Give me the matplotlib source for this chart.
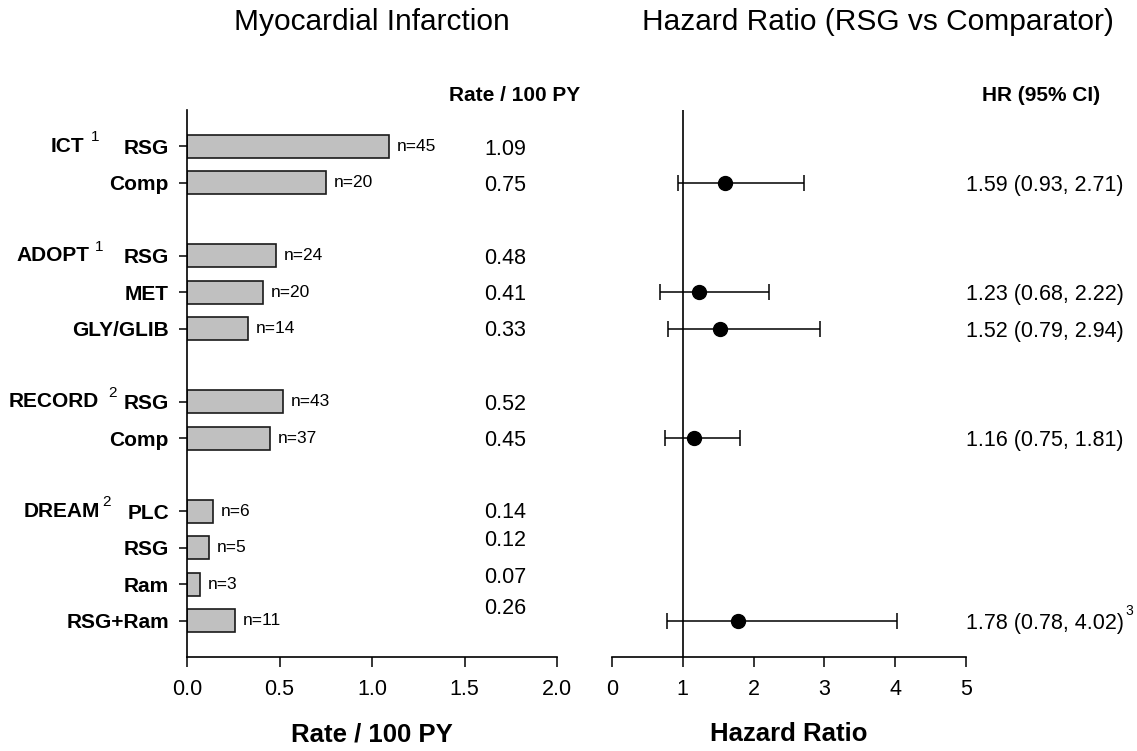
import numpy as np
import matplotlib.pyplot as plt

plt.rcParams['font.family'] = ['Liberation Sans', 'DejaVu Sans']

# data
rows = [0, 1, 3, 4, 5, 7, 8, 10, 11, 12, 13]
arms = ['RSG', 'Comp', 'RSG', 'MET', 'GLY/GLIB', 'RSG', 'Comp', 'PLC', 'RSG', 'Ram', 'RSG+Ram']
rates = [1.09, 0.75, 0.48, 0.41, 0.33, 0.52, 0.45, 0.14, 0.12, 0.07, 0.26]
events = [45, 20, 24, 20, 14, 43, 37, 6, 5, 3, 11]

studies = ['ICT', 'ADOPT', 'RECORD', 'DREAM']
study_refs = ['1', '1', '2', '2']
study_rows = [0, 3, 7, 10]

hr_rows = [1, 4, 5, 8, 13]
hr = [1.59, 1.23, 1.52, 1.16, 1.78]
hr_lo = [0.93, 0.68, 0.79, 0.75, 0.78]
hr_hi = [2.71, 2.22, 2.94, 1.81, 4.02]
hr_notes = ['', '', '', '', '3']

# small vertical nudges of the rate column, as in the original slide
rate_shift = [0.07, 0.07, 0.07, 0.07, 0.05, 0.07, 0.07, 0.05, -0.19, -0.19, -0.33]
# where the study names end / superscripts start (pixels left of the axis)
name_off = [103, 98, 88, 87]
sup_off = [96, 92, 79, 85]

fig = plt.figure(figsize=(11.37, 7.51), dpi=100)
ax1 = fig.add_axes([187 / 1137, 1 - 657 / 751, 370 / 1137, 547 / 751])
ax2 = fig.add_axes([612 / 1137, 1 - 657 / 751, 354 / 1137, 547 / 751])

# ---- left panel: rates
ax1.barh(rows, rates, height=0.63, color='#c0c0c0', edgecolor='#1a1a1a', linewidth=1.2)
ax1.set_xlim(0, 2)
ax1.set_ylim(14, -1)
ax1.set_xticks([0, 0.5, 1.0, 1.5, 2.0])
ax1.set_xticklabels(['0.0', '0.5', '1.0', '1.5', '2.0'])
ax1.set_yticks(rows)
ax1.set_yticklabels(arms, fontweight='bold', fontsize=15)
ax1.tick_params(axis='y', length=6, width=1.1, pad=7)
ax1.tick_params(axis='x', length=7, width=1.1, pad=9, labelsize=15.5)
for s in ['top', 'right']:
    ax1.spines[s].set_visible(False)
for s in ['left', 'bottom']:
    ax1.spines[s].set_linewidth(1.2)

for r, v, n, dy in zip(rows, rates, events, rate_shift):
    ax1.annotate(f'n={n}', xy=(v, r), xytext=(8, 0), textcoords='offset pixels',
                 ha='left', va='center', fontsize=12.5)
    ax1.text(1.72, r + dy, f'{v:.2f}', ha='center', va='center', fontsize=15.5)

ax1.text(1.77, -1.4, 'Rate / 100 PY', ha='center', va='center', fontsize=15,
         fontweight='bold', clip_on=False)

for name, ref, r, no, so in zip(studies, study_refs, study_rows, name_off, sup_off):
    ax1.annotate(name, xy=(0, r), xycoords=('axes fraction', 'data'), xytext=(-no, 0),
                 textcoords='offset pixels', ha='right', va='center',
                 fontweight='bold', fontsize=15)
    ax1.annotate(ref, xy=(0, r), xycoords=('axes fraction', 'data'), xytext=(-so, 2),
                 textcoords='offset pixels', ha='left', va='bottom', fontsize=11)

ax1.set_xlabel('Rate / 100 PY', fontsize=18.5, fontweight='bold', labelpad=16)

# ---- right panel: hazard ratios
ax2.axvline(1, color='black', linewidth=1.2)
ax2.errorbar(hr, hr_rows, xerr=[np.subtract(hr, hr_lo), np.subtract(hr_hi, hr)],
             fmt='o', color='black', markersize=10, capsize=5.5, elinewidth=1.1,
             capthick=1.1)
ax2.set_xlim(0, 5)
ax2.set_ylim(14, -1)
ax2.set_yticks([])
ax2.set_xticks(range(6))
ax2.tick_params(axis='x', length=7, width=1.1, pad=9, labelsize=15.5)
for s in ['top', 'right', 'left']:
    ax2.spines[s].set_visible(False)
ax2.spines['bottom'].set_linewidth(1.2)

for r, h, lo, hi, note in zip(hr_rows, hr, hr_lo, hr_hi, hr_notes):
    t = ax2.text(5.0, r + 0.07, f'{h:.2f} ({lo:.2f}, {hi:.2f})', ha='left', va='center',
                 fontsize=15.5, clip_on=False)
    if note:
        ax2.annotate(note, xy=(1, 0.75), xycoords=t, xytext=(1, 0),
                     textcoords='offset pixels', ha='left', va='bottom', fontsize=10,
                     annotation_clip=False)

ax2.text(6.06, -1.4, 'HR (95% CI)', ha='center', va='center', fontsize=15,
         fontweight='bold', clip_on=False)
ax2.set_xlabel('Hazard Ratio', fontsize=18.5, fontweight='bold', labelpad=16)

# titles
fig.text(372 / 1137, 1 - 22 / 751, 'Myocardial Infarction', ha='center', va='center',
         fontsize=21.5)
fig.text(878 / 1137, 1 - 22 / 751, 'Hazard Ratio (RSG vs Comparator)', ha='center',
         va='center', fontsize=21.5)

fig.savefig('out.png', dpi=100)
